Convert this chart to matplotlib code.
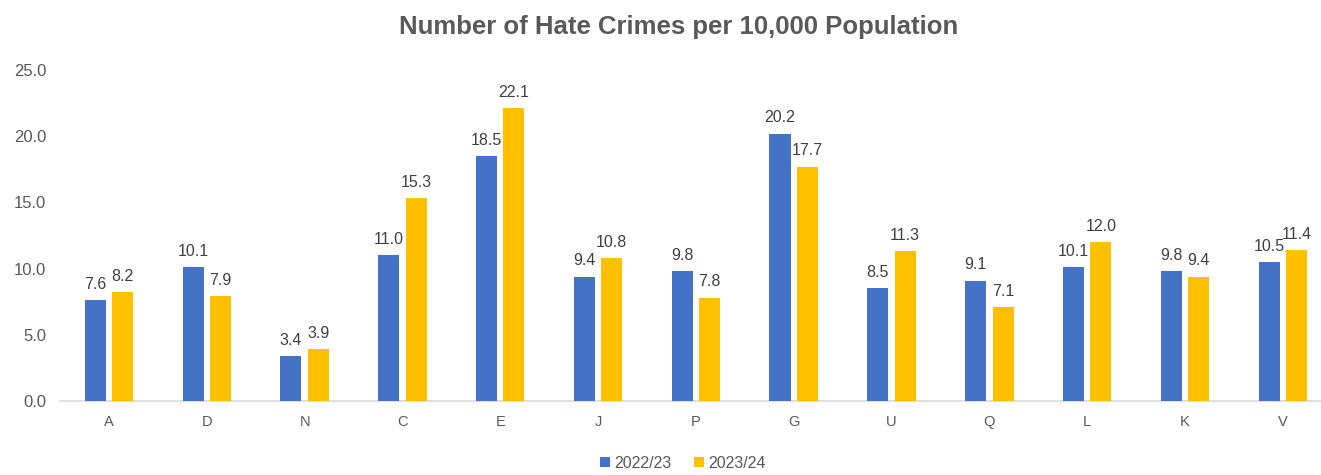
import matplotlib
matplotlib.use("Agg")
import matplotlib.pyplot as plt
import numpy as np

# Chart data
categories = ["A", "D", "N", "C", "E", "J", "P", "G", "U", "Q", "L", "K", "V"]
series_names = ["2022/23", "2023/24"]
rate_2022_23 = [7.6, 10.1, 3.4, 11.0, 18.5, 9.4, 9.8, 20.2, 8.5, 9.1, 10.1, 9.8, 10.5]
rate_2023_24 = [8.2, 7.9, 3.9, 15.3, 22.1, 10.8, 7.8, 17.7, 11.3, 7.1, 12.0, 9.4, 11.4]
y_ticks = [0, 5, 10, 15, 20, 25]

plt.rcParams["font.family"] = ["Liberation Sans", "DejaVu Sans"]

BLUE = "#4472C4"
GOLD = "#FFC000"
TEXT = "#595959"
LABEL = "#404040"

fig = plt.figure(figsize=(13.21, 4.75), dpi=100)
ax = fig.add_axes([60 / 1321, 1 - 401 / 475, 1 - 60 / 1321, (401 - 70) / 475])

x = np.arange(len(categories))
width = 0.215
offset = 0.14

bars1 = ax.bar(x - offset, rate_2022_23, width, color=BLUE, label=series_names[0], zorder=3)
bars2 = ax.bar(x + offset, rate_2023_24, width, color=GOLD, label=series_names[1], zorder=3)

for bars, vals in ((bars1, rate_2022_23), (bars2, rate_2023_24)):
    for b, v in zip(bars, vals):
        ax.annotate(f"{v:.1f}", (b.get_x() + b.get_width() / 2, v),
                    xytext=(0, 6), textcoords="offset points",
                    ha="center", va="bottom", fontsize=11.5, color=LABEL)

ax.set_xlim(-0.5, 12.39)
ax.set_ylim(0, 25)
ax.set_yticks(y_ticks)
ax.set_yticklabels([f"{t:.1f}" for t in y_ticks], fontsize=12, color=TEXT)
ax.set_xticks(x)
ax.set_xticklabels(categories, fontsize=10.5, color=TEXT)
ax.tick_params(axis="both", length=0)
ax.tick_params(axis="y", pad=10)
ax.tick_params(axis="x", pad=10)

for side in ("top", "right", "left"):
    ax.spines[side].set_visible(False)
ax.spines["bottom"].set_color("#D9D9D9")
ax.spines["bottom"].set_linewidth(1.2)

fig.text(679 / 1321, 1 - 27 / 475, "Number of Hate Crimes per 10,000 Population",
         ha="center", va="center", fontsize=18.5, fontweight="bold", color=TEXT)

leg = fig.legend(handles=[bars1, bars2], labels=series_names, loc="center",
                 bbox_to_anchor=(683 / 1321, 1 - 463 / 475), ncol=2, frameon=False,
                 fontsize=11.5, handlelength=0.6, handleheight=0.6,
                 handletextpad=0.3, columnspacing=1.4)
for t in leg.get_texts():
    t.set_color(TEXT)

fig.savefig("out.png", dpi=100)
